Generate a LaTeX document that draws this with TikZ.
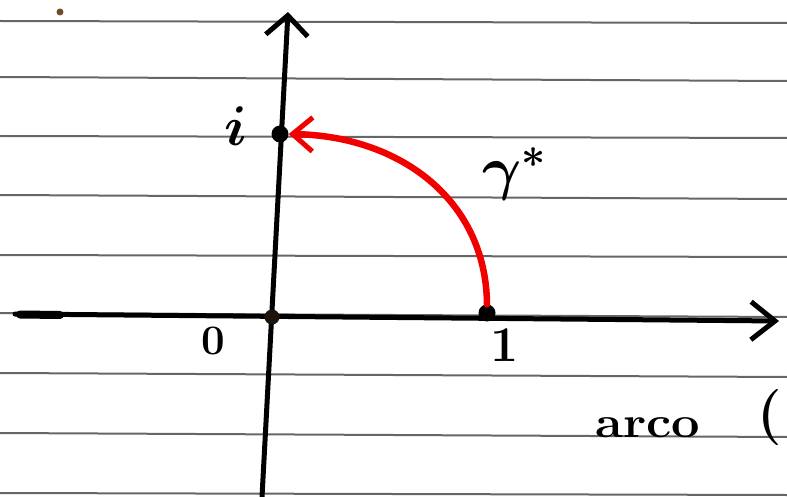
\RequirePackage{fix-cm}
\documentclass[tikz,border=0pt]{standalone}
\usepackage{bm}
\usetikzlibrary{arrows.meta}
\begin{document}
\begin{tikzpicture}[x=1pt,y=-1pt,
  paperline/.style={draw=black!60, line width=2pt},
  axis/.style={draw=black, line width=5pt, line cap=round},
  redarc/.style={draw=red!95!black, line width=6.5pt, line cap=round},
  dot/.style={circle, fill=black, inner sep=0pt, minimum size=17pt},
  lab/.style={inner sep=0pt, text=black}]
\useasboundingbox (0,0) rectangle (787,497);
\fill[white] (0,0) rectangle (787,497);
% ruled paper
\foreach \a/\b in {21/23,77/81,136/138,195/199,255/257,313/317,373/377,433/437,493/495}
  \draw[paperline] (0,\a) -- (787,\b);
% small mark top-left
\fill[brown!60!black] (60,12) circle (3.5pt);
% axes
\coordinate (ybot) at (262,497);
\coordinate (ytop) at (288,12);
\coordinate (xl) at (15,314);
\coordinate (xr) at (779,321);
\draw[axis, -{Straight Barb[length=20pt,width=42pt,line width=5pt]}] (ybot) -- (ytop);
\draw[axis, -{Straight Barb[length=24pt,width=38pt,line width=5pt]}] (xl) -- (xr);
\draw[black, line width=8pt, line cap=round] (20,314.5) -- (60,315);
% points
\node[dot, fill=black!85!brown, minimum size=15pt] (O) at (272,317) {};
\node[dot] (one) at (487,313) {};
\node[dot] (I) at (280,134) {};
% red arc gamma*
\draw[redarc, -{Straight Barb[length=20pt,width=34pt,line width=5pt]}]
  (one.north) .. controls (486,200) and (400,136) .. (I.east);
% labels
\node[lab, font=\fontsize{56}{56}\selectfont] (ilab) at (236,126) {$\bm{i}$};
\node[lab, font=\fontsize{42}{42}\selectfont\bfseries] (zlab) at (213,341) {0};
\node[lab, font=\fontsize{50}{50}\selectfont\bfseries] (onelab) at (505,345) {1};
\node[lab, font=\fontsize{60}{60}\selectfont] (glab) at (514,174) {$\bm{\gamma^{*}}$};
\node[lab, font=\fontsize{44}{44}\selectfont\bfseries, xscale=1.15] (arco) at (648,428) {arco};
\node[lab, font=\fontsize{56}{56}\selectfont\bfseries] (paren) at (770,418) {(};
\end{tikzpicture}
\end{document}
